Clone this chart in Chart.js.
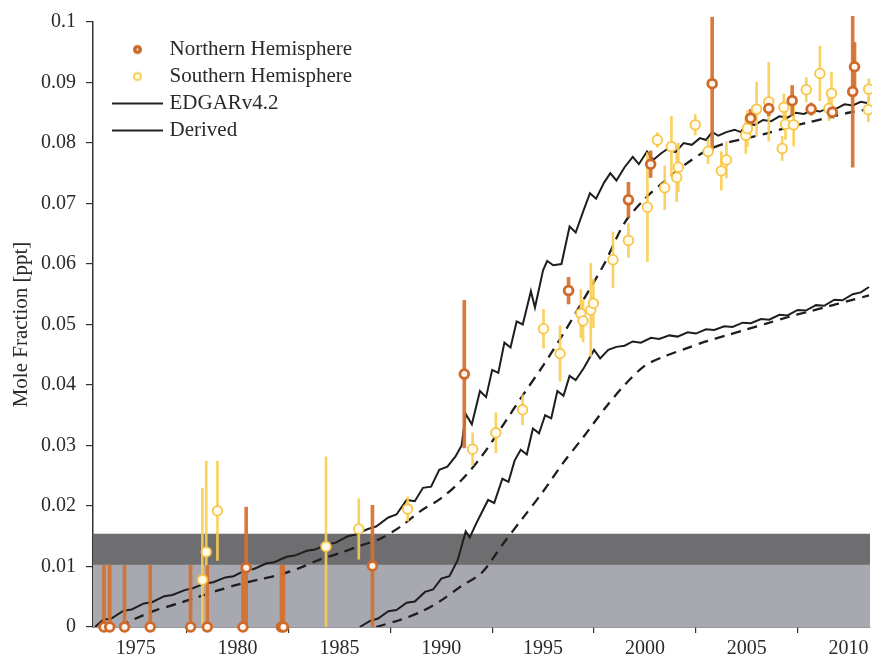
<!DOCTYPE html>
<html><head><meta charset="utf-8">
<script src="https://cdn.jsdelivr.net/npm/chart.js@4/dist/chart.umd.min.js"></script>
<style>html,body{margin:0;padding:0;background:#fff;}#wrap{width:872px;height:662px;}</style>
</head><body><div id="wrap"><canvas id="c" width="872" height="662"></canvas></div>
<script>
// ---------- DATA ----------
const xTickValues = [1975, 1980, 1985, 1990, 1995, 2000, 2005, 2010];
const xTickLabels = ['1975', '1980', '1985', '1990', '1995', '2000', '2005', '2010'];
const yTickValues = [0, 0.01, 0.02, 0.03, 0.04, 0.05, 0.06, 0.07, 0.08, 0.09, 0.1];
const yTickLabels = ['0', '0.01', '0.02', '0.03', '0.04', '0.05', '0.06', '0.07', '0.08', '0.09', '0.1'];

// Northern Hemisphere observations
const nhYears  = [1973.44, 1973.72, 1974.45, 1975.71, 1977.69, 1978.51, 1980.26, 1980.42, 1982.15, 1982.25, 1986.62, 1991.13, 1996.25, 1999.19, 2000.28, 2003.30, 2005.19, 2006.08, 2007.23, 2008.16, 2009.20, 2010.20, 2010.29];
const nhValues = [0, 0, 0, 0, 0, 0, 0, 0.0098, 0, 0, 0.0101, 0.0418, 0.0556, 0.0706, 0.0765, 0.0898, 0.0841, 0.0857, 0.0870, 0.0856, 0.0851, 0.0885, 0.0926];
const nhErrors = [0.0102, 0.0102, 0.0102, 0.0102, 0.0102, 0.0102, 0.0102, 0.0100, 0.0102, 0.0102, 0.0100, 0.0122, 0.0022, 0.0029, 0.0022, 0.0110, 0.0015, 0.0012, 0.0025, 0.0010, 0.0010, 0.0125, 0.0040];

// Southern Hemisphere observations
const shYears  = [1978.27, 1978.46, 1979.01, 1984.34, 1985.95, 1988.35, 1991.54, 1992.68, 1993.99, 1995.02, 1995.83, 1996.85, 1996.96, 1997.34, 1997.47, 1998.43, 1999.19, 2000.12, 2000.61, 2000.97, 2001.30, 2001.56, 2001.64, 2002.47, 2003.10, 2003.75, 2004.00, 2004.95, 2005.03, 2005.48, 2006.08, 2006.74, 2006.82, 2006.90, 2007.30, 2007.92, 2008.59, 2009.03, 2009.16, 2010.97, 2010.99];
const shValues = [0.0078, 0.0124, 0.0192, 0.0133, 0.0162, 0.0195, 0.0294, 0.0321, 0.0359, 0.0493, 0.0452, 0.0518, 0.0506, 0.0524, 0.0535, 0.0607, 0.0639, 0.0694, 0.0805, 0.0726, 0.0794, 0.0743, 0.0760, 0.0830, 0.0786, 0.0754, 0.0772, 0.0813, 0.0824, 0.0856, 0.0868, 0.0791, 0.0859, 0.0831, 0.0830, 0.0888, 0.0915, 0.0857, 0.0882, 0.0855, 0.0889];
const shErrors = [0.0151, 0.0150, 0.0082, 0.0148, 0.0050, 0.0020, 0.0027, 0.0033, 0.0025, 0.0032, 0.0046, 0.0040, 0.0035, 0.0077, 0.0040, 0.0046, 0.0028, 0.0090, 0.0012, 0.0036, 0.0050, 0.0040, 0.0040, 0.0017, 0.0020, 0.0032, 0.0030, 0.0030, 0.0030, 0.0045, 0.0065, 0.0020, 0.0022, 0.0025, 0.0035, 0.0020, 0.0045, 0.0020, 0.0035, 0.0020, 0.0017];

// EDGARv4.2 (solid, upper)
const edgarYears = [1973.0, 1973.4, 1973.8, 1974.4, 1974.8, 1975.4, 1975.8, 1976.4, 1976.8, 1977.4, 1977.8, 1978.4, 1978.8, 1979.4, 1979.8, 1980.4, 1980.8, 1981.4, 1981.8, 1982.4, 1982.8, 1983.4, 1983.8, 1984.4, 1984.8, 1985.4, 1985.8, 1986.4, 1986.8, 1987.4, 1987.8, 1988.3, 1988.7, 1989.1, 1989.5, 1989.9, 1990.3, 1990.7, 1991.0, 1991.2, 1991.5, 1991.9, 1992.2, 1992.5, 1992.8, 1993.1, 1993.4, 1993.7, 1994.0, 1994.4, 1994.6, 1995.0, 1995.2, 1995.5, 1995.9, 1996.3, 1996.6, 1997.0, 1997.3, 1997.6, 1998.0, 1998.3, 1998.6, 1999.0, 1999.4, 1999.7, 2000.1, 2000.4, 2000.8, 2001.1, 2001.5, 2001.9, 2002.3, 2002.7, 2003.0, 2003.3, 2003.6, 2004.0, 2004.4, 2004.7, 2005.0, 2005.4, 2005.8, 2006.2, 2006.6, 2007.0, 2007.4, 2007.8, 2008.2, 2008.6, 2009.0, 2009.4, 2009.8, 2010.2, 2010.6, 2010.9];
const edgarValues = [0.0000, 0.0012, 0.0014, 0.0027, 0.0029, 0.0039, 0.0041, 0.0051, 0.0053, 0.0061, 0.0064, 0.0072, 0.0074, 0.0082, 0.0084, 0.0094, 0.0096, 0.0105, 0.0107, 0.0116, 0.0118, 0.0126, 0.0128, 0.0137, 0.0139, 0.0150, 0.0153, 0.0162, 0.0166, 0.0181, 0.0186, 0.0210, 0.0208, 0.0230, 0.0232, 0.0260, 0.0265, 0.0282, 0.0300, 0.0352, 0.0335, 0.0390, 0.0380, 0.0425, 0.0420, 0.0470, 0.0462, 0.0505, 0.0500, 0.0555, 0.0528, 0.0590, 0.0605, 0.0598, 0.0600, 0.0662, 0.0652, 0.0690, 0.0717, 0.0708, 0.0735, 0.0750, 0.0738, 0.0760, 0.0777, 0.0765, 0.0786, 0.0772, 0.0783, 0.0790, 0.0785, 0.0800, 0.0797, 0.0808, 0.0805, 0.0818, 0.0812, 0.0818, 0.0822, 0.0818, 0.0832, 0.0830, 0.0838, 0.0836, 0.0844, 0.0842, 0.0850, 0.0848, 0.0854, 0.0852, 0.0858, 0.0857, 0.0864, 0.0862, 0.0868, 0.0866];

// EDGARv4.2 (dashed, upper)
const edgarDashYears = [1974.2, 1975, 1976, 1977, 1978, 1979, 1980, 1981, 1982, 1983, 1984, 1985, 1986, 1987, 1988, 1989, 1990, 1991, 1992, 1993, 1994, 1995, 1996, 1997, 1998, 1999, 2000, 2001, 2002, 2003, 2004, 2005, 2006, 2007, 2008, 2009, 2010, 2011];
const edgarDashValues = [0.0000, 0.0014, 0.0028, 0.0038, 0.0049, 0.0060, 0.0070, 0.0078, 0.0086, 0.0097, 0.0111, 0.0122, 0.0134, 0.0146, 0.0166, 0.0192, 0.0213, 0.0243, 0.0283, 0.0332, 0.0383, 0.0432, 0.0485, 0.0542, 0.0600, 0.0668, 0.0708, 0.0738, 0.0765, 0.0787, 0.0800, 0.0808, 0.0816, 0.0826, 0.0834, 0.0842, 0.0850, 0.0856];

// Derived (solid, lower)
const derivedYears = [1986.0, 1986.5, 1986.9, 1987.4, 1987.8, 1988.3, 1988.7, 1989.2, 1989.6, 1990.0, 1990.4, 1990.8, 1991.2, 1991.4, 1991.7, 1992.0, 1992.3, 1992.6, 1993.0, 1993.3, 1993.6, 1993.9, 1994.2, 1994.5, 1994.8, 1995.1, 1995.4, 1995.7, 1996.0, 1996.3, 1996.6, 1997.0, 1997.5, 1997.8, 1998.2, 1998.6, 1999.0, 1999.4, 1999.8, 2000.3, 2000.7, 2001.2, 2001.6, 2002.1, 2002.5, 2003.0, 2003.4, 2003.9, 2004.3, 2004.8, 2005.2, 2005.7, 2006.1, 2006.6, 2007.0, 2007.5, 2007.9, 2008.4, 2008.8, 2009.3, 2009.7, 2010.2, 2010.6, 2011.0];
const derivedValues = [0.0000, 0.0010, 0.0014, 0.0026, 0.0028, 0.0040, 0.0042, 0.0058, 0.0062, 0.0080, 0.0084, 0.0110, 0.0158, 0.0148, 0.0170, 0.0190, 0.0210, 0.0205, 0.0245, 0.0240, 0.0275, 0.0293, 0.0285, 0.0328, 0.0320, 0.0350, 0.0345, 0.0390, 0.0382, 0.0415, 0.0408, 0.0428, 0.0458, 0.0444, 0.0458, 0.0463, 0.0465, 0.0472, 0.0470, 0.0478, 0.0476, 0.0482, 0.0480, 0.0487, 0.0485, 0.0492, 0.0491, 0.0497, 0.0496, 0.0503, 0.0502, 0.0509, 0.0508, 0.0516, 0.0515, 0.0524, 0.0523, 0.0532, 0.0531, 0.0541, 0.0540, 0.0550, 0.0553, 0.0562];

// Derived (dashed, lower)
const derivedDashYears = [1986.8, 1988, 1989, 1990, 1991, 1992, 1993, 1994, 1995, 1996, 1997, 1998, 1999, 2000, 2001, 2002, 2003, 2004, 2005, 2006, 2007, 2008, 2009, 2010, 2011];
const derivedDashValues = [0.0000, 0.0012, 0.0025, 0.0044, 0.0068, 0.0090, 0.0136, 0.0180, 0.0224, 0.0272, 0.0315, 0.0360, 0.0400, 0.0432, 0.0448, 0.0460, 0.0472, 0.0482, 0.0492, 0.0502, 0.0512, 0.0521, 0.0530, 0.0539, 0.0548];

// Shaded background bands (value ranges)
const bandYears = [1972.9, 2011.05];
const bandUpper = 0.0154;
const bandLower = 0.0103;

// ---------- BUILD ----------
const FONT = 'Liberation Serif';
const zip = (xs, ys) => xs.map((x, i) => ({x, y: ys[i]}));
const errBars = (xs, ys, es) => xs.map((x, i) => ({x, y: [Math.max(0, ys[i] - es[i]), ys[i] + es[i]]}));

function icon(kind) {
  const c = document.createElement('canvas');
  c.width = 80; c.height = 20;
  const g = c.getContext('2d');
  if (kind === 'line') {
    g.strokeStyle = '#222'; g.lineWidth = 2;
    g.beginPath(); g.moveTo(23, 10); g.lineTo(74, 10); g.stroke();
  } else if (kind === 'nh') {
    g.fillStyle = '#c9662a';
    g.beginPath(); g.arc(48.5, 10, 4.5, 0, Math.PI * 2); g.fill();
    g.fillStyle = '#f4c9a8';
    g.beginPath(); g.arc(48.5, 10, 1.3, 0, Math.PI * 2); g.fill();
  } else {
    g.strokeStyle = '#f8cc55'; g.lineWidth = 2; g.fillStyle = '#fff8e0';
    g.beginPath(); g.arc(48.5, 10, 3.6, 0, Math.PI * 2); g.fill(); g.stroke();
  }
  return c;
}

const datasets = [
  {label: 'band-dark', type: 'line', data: zip(bandYears, [bandUpper, bandUpper]), fill: 'origin', backgroundColor: '#6e6e71', borderWidth: 0, pointRadius: 0, order: 21},
  {label: 'band-light', type: 'line', data: zip(bandYears, [bandLower, bandLower]), fill: 'origin', backgroundColor: '#a8a8b0', borderWidth: 0, pointRadius: 0, order: 20},
  {label: 'EDGARv4.2', type: 'line', data: zip(edgarYears, edgarValues), borderColor: '#1e1e1e', borderWidth: 2, pointRadius: 0, tension: 0, fill: false, order: 10},
  {label: 'EDGARv4.2 (dashed)', type: 'line', data: zip(edgarDashYears, edgarDashValues), borderColor: '#1e1e1e', borderWidth: 2.3, borderDash: [10, 7], pointRadius: 0, tension: 0.3, fill: false, order: 10},
  {label: 'Derived', type: 'line', data: zip(derivedYears, derivedValues), borderColor: '#1e1e1e', borderWidth: 2, pointRadius: 0, tension: 0, fill: false, order: 10},
  {label: 'Derived (dashed)', type: 'line', data: zip(derivedDashYears, derivedDashValues), borderColor: '#1e1e1e', borderWidth: 2.3, borderDash: [10, 7], pointRadius: 0, tension: 0.3, fill: false, order: 10},
  {label: 'SH error', type: 'bar', data: errBars(shYears, shValues, shErrors), backgroundColor: 'rgba(250,205,80,0.9)', barThickness: 2, grouped: false, order: 6, clip: 6},
  {label: 'NH error', type: 'bar', data: errBars(nhYears, nhValues, nhErrors), backgroundColor: 'rgba(214,112,45,0.92)', barThickness: 3, grouped: false, order: 5, clip: 6},
  {label: 'Southern Hemisphere', type: 'scatter', data: zip(shYears, shValues), pointRadius: 4.8, borderWidth: 1.8, borderColor: '#f7c548', backgroundColor: '#fffbec', order: 2, clip: 8},
  {label: 'Northern Hemisphere', type: 'scatter', data: zip(nhYears, nhValues), pointRadius: 4.4, borderWidth: 2.8, borderColor: '#cf6a2b', backgroundColor: '#fff3ea', order: 1, clip: 8}
];

const legendItems = [
  {idx: 9, kind: 'nh'}, {idx: 8, kind: 'sh'}, {idx: 2, kind: 'line'}, {idx: 4, kind: 'line'}
];

new Chart(document.getElementById('c'), {
  type: 'scatter',
  data: {datasets},
  options: {
    responsive: false,
    animation: false,
    devicePixelRatio: 1,
    layout: {autoPadding: false, padding: {top: 22, right: 2, left: 0, bottom: 0}},
    plugins: {
      tooltip: {enabled: false},
      legend: {
        position: 'chartArea',
        align: 'start',
        title: {display: true, text: ' ', font: {size: 1, lineHeight: 1}, padding: {top: 32, bottom: 0}},
        labels: {
          usePointStyle: true,
          pointStyleWidth: 60,
          padding: 6,
          color: '#2a2a2a',
          font: {family: FONT, size: 21},
          generateLabels: (chart) => legendItems.map(it => ({
            text: chart.data.datasets[it.idx].label,
            pointStyle: icon(it.kind),
            fillStyle: 'rgba(0,0,0,0)', strokeStyle: 'rgba(0,0,0,0)', lineWidth: 0,
            hidden: false, datasetIndex: it.idx, fontColor: '#2a2a2a'
          }))
        }
      }
    },
    scales: {
      x: {
        type: 'linear', min: bandYears[0], max: bandYears[1], offset: false,
        afterBuildTicks: (s) => { s.ticks = xTickValues.map(v => ({value: v})); },
        afterFit: (s) => { s.height = 35; s.paddingLeft = 0; s.paddingRight = 0; },
        ticks: {includeBounds: false, padding: 4, color: '#2a2a2a', font: {family: FONT, size: 20},
          callback: (v) => xTickLabels[xTickValues.indexOf(v)], maxRotation: 0, autoSkip: false},
        grid: {display: true, drawOnChartArea: false, drawTicks: true, tickLength: 6, color: '#333', lineWidth: 1.2},
        border: {display: true, color: '#333', width: 1.5}
      },
      y: {
        type: 'linear', min: 0, max: 0.1,
        afterBuildTicks: (s) => { s.ticks = yTickValues.map(v => ({value: v})); },
        afterFit: (s) => { s.width = 93; },
        ticks: {padding: 10, color: '#2a2a2a', font: {family: FONT, size: 20},
          callback: (v) => yTickLabels[yTickValues.indexOf(v)], autoSkip: false},
        grid: {display: true, drawOnChartArea: false, drawTicks: true, tickLength: 7, color: '#333', lineWidth: 1.2},
        border: {display: true, color: '#333', width: 1.5},
        title: {display: true, text: 'Mole Fraction [ppt]', color: '#2a2a2a', font: {family: FONT, size: 21}, padding: {top: 9, bottom: 0}}
      }
    }
  }
});
</script>
</body></html>
